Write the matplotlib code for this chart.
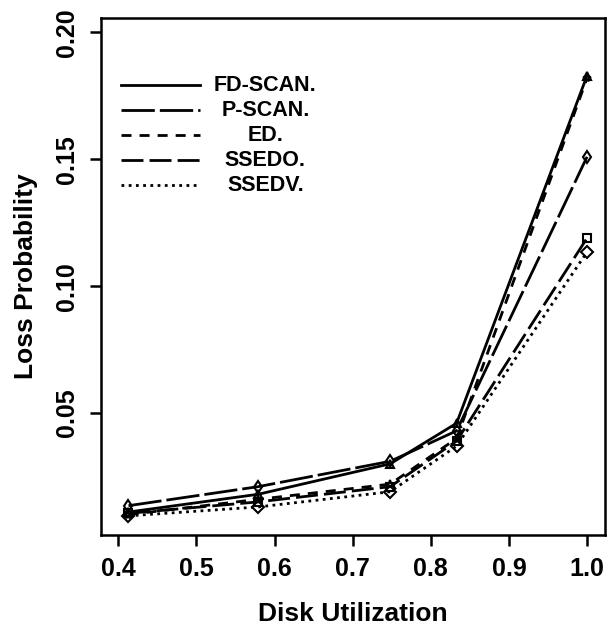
import matplotlib
matplotlib.use('Agg')
from matplotlib import pyplot as plt

# disk utilization points
util = [0.413, 0.579, 0.748, 0.833, 1.0]

# loss probability per scheduler
fd_scan = [0.011, 0.018, 0.030, 0.046, 0.183]
p_scan = [0.0135, 0.021, 0.031, 0.043, 0.151]
ed = [0.010, 0.016, 0.022, 0.040, 0.182]
ssedo = [0.0105, 0.015, 0.021, 0.039, 0.119]
ssedv = [0.0095, 0.013, 0.019, 0.037, 0.1135]

names = ['FD-SCAN.', 'P-SCAN.', 'ED.', 'SSEDO.', 'SSEDV.']
x_ticks = [0.4, 0.5, 0.6, 0.7, 0.8, 0.9, 1.0]
y_ticks = [0.05, 0.10, 0.15, 0.20]

plt.rcParams['font.family'] = ['Liberation Sans', 'DejaVu Sans']
plt.rcParams['font.weight'] = 'bold'

fig = plt.figure(figsize=(6.13, 6.30), dpi=100)
ax = fig.add_axes([0.165, 0.151, 0.822, 0.820])

series = [fd_scan, p_scan, ed, ssedo, ssedv]
styles = ['-', (0, (12, 1.8)), (0, (3.6, 2.9)), (0, (7.9, 2.2)), (0, (1, 1.6))]
markers = ['^', 'd', '*', 's', 'D']
for vals, ls, mk in zip(series, styles, markers):
    ax.plot(util, vals, color='black', linestyle=ls, lw=2,
            marker=mk, ms=6, mew=1.5, mfc='none', mec='black')

# legend drawn by hand so the labels are centred like the original
for i, (name, ls) in enumerate(zip(names, styles)):
    yy = 0.870 - i * 0.0484
    ax.plot([0.040, 0.196], [yy, yy], transform=ax.transAxes,
            color='black', linestyle=ls, lw=2)
    ax.text(0.326, yy, name, transform=ax.transAxes, ha='center',
            va='center', fontsize=15.5, fontweight='bold')

ax.set_xlim(0.378, 1.023)
ax.set_ylim(0.002, 0.2056)
ax.set_xticks(x_ticks)
ax.set_xticklabels(['0.4', '0.5', '0.6', '0.7', '0.8', '0.9', '1.0'])
ax.set_yticks(y_ticks)
ax.set_yticklabels(['0.05', '0.10', '0.15', '0.20'], rotation=90, va='center')

ax.tick_params(axis='both', which='major', labelsize=18, length=8, width=1.8,
               direction='out', pad=8)
for sp in ax.spines.values():
    sp.set_linewidth(1.8)

ax.set_xlabel('Disk Utilization', fontsize=19, fontweight='bold', labelpad=15)
ax.set_ylabel('Loss Probability', fontsize=19, fontweight='bold', labelpad=12)

fig.savefig('out.png', dpi=100)
